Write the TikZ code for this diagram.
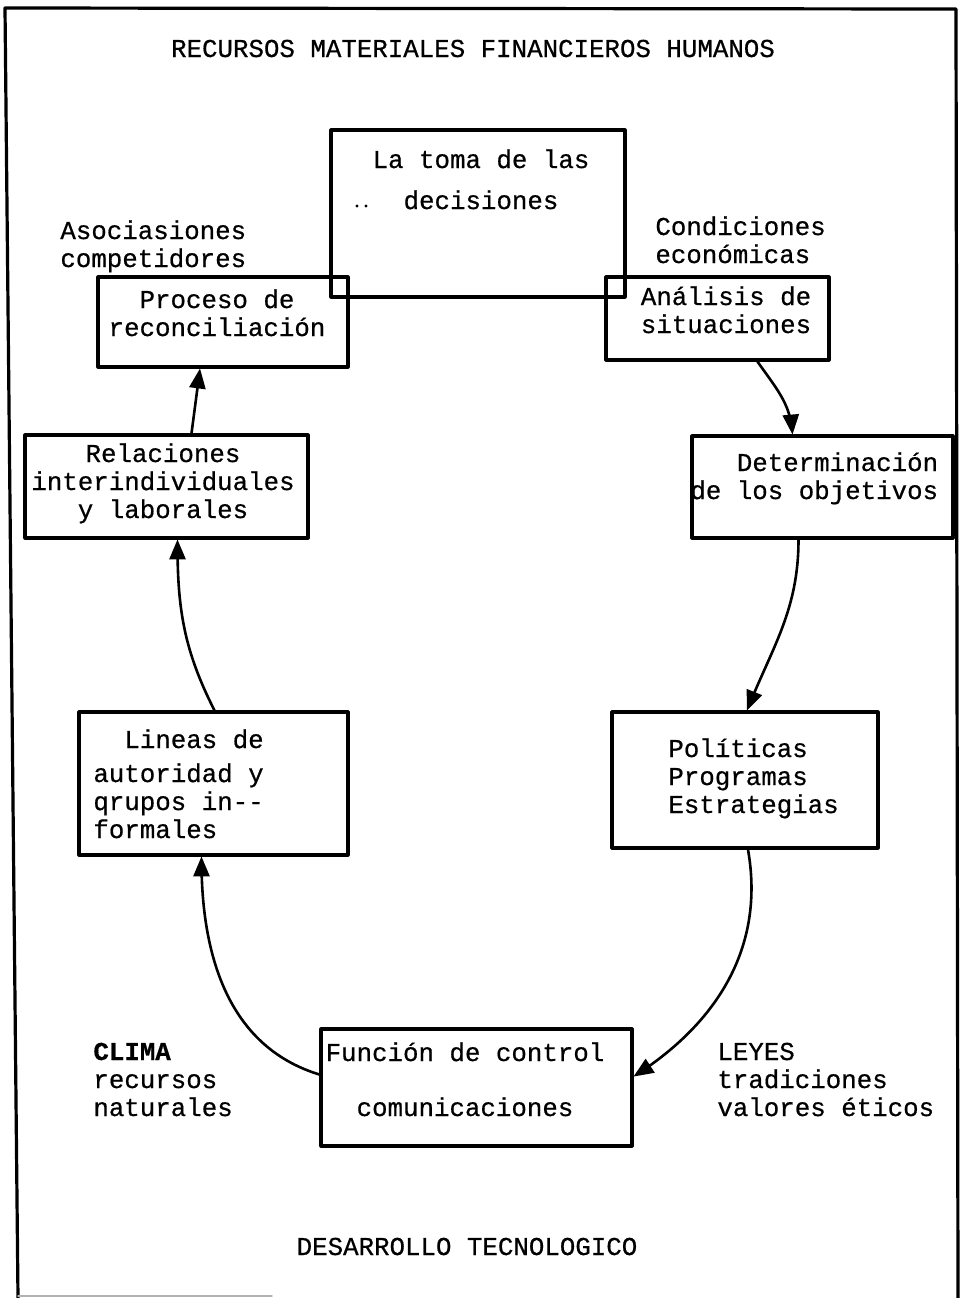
\documentclass[tikz,border=0pt]{standalone}
\usepackage{fontspec}
\setmainfont[FakeBold=0.6]{Liberation Mono}
\usetikzlibrary{arrows,calc}

\tikzset{
  caja/.style={draw,line width=1.6pt,inner sep=0pt},
  texto/.style={inner sep=0pt,font=\fontsize{12.9}{14}\selectfont},
  flecha/.style={line width=1.3pt,->},
}

\begin{document}
\begin{tikzpicture}[x=0.5pt,y=0.5pt,line cap=round,line join=round,>=triangle 45]
    \useasboundingbox (0,0) rectangle (960,-1298);
    % marco
    \draw[line width=1.6pt] (18,-1298) -- (5,-8) -- (956,-9) -- (958,-1298);
    \draw[gray!60,line width=0.7pt] (18,-1296) -- (272,-1296);

    \node[texto,anchor=base] (recursos) at (473,-57) {RECURSOS MATERIALES FINANCIEROS HUMANOS};
    \node[texto,anchor=base] (desarrollo) at (467,-1255) {DESARROLLO TECNOLOGICO};

    % cajas
    \node[caja,minimum width=147pt,minimum height=83.5pt] (dec) at (478,-213.5) {};
    \node[caja,minimum width=125pt,minimum height=45pt] (proc) at (223,-322) {};
    \node[caja,minimum width=111.5pt,minimum height=41.5pt] (anal) at (717.5,-318.5) {};
    \node[caja,minimum width=141.5pt,minimum height=51.5pt] (rel) at (166.5,-486.5) {};
    \node[caja,minimum width=130.5pt,minimum height=51pt] (det) at (822.5,-487) {};
    \node[caja,minimum width=133pt,minimum height=68pt] (pol) at (745,-780) {};
    \node[caja,minimum width=134.5pt,minimum height=71.5pt] (lin) at (213.5,-783.5) {};
    \node[caja,minimum width=155.5pt,minimum height=58.5pt] (func) at (476.5,-1087.5) {};

    % textos de las cajas (base = ultima linea)
    \node[texto,anchor=base,align=center] (dectxt) at (481,-209) {La toma de las\\[6.5pt]decisiones};
    \fill (357,-206) circle (0.8pt) (366,-206) circle (0.8pt);
    \node[texto,anchor=base,align=center] (proctxt) at (217,-336) {Proceso de\\reconciliación};
    \node[texto,anchor=base,align=center] (analtxt) at (726,-333) {Análisis de\\situaciones};
    \node[texto,anchor=base,align=center] (reltxt) at (163,-518) {Relaciones\\interindividuales\\y laborales};
    \node[texto,anchor=base west,align=left] (dettxt) at (690,-499) {\phantom{xxx}Determinación\\de los objetivos};
    \node[texto,anchor=base west,align=left] (poltxt) at (668,-813) {Políticas\\Programas\\Estrategias};
    \node[texto,anchor=base west,align=left] (lintxt) at (93,-838) {\phantom{xx}Lineas de\\[3pt]autoridad y\\qrupos in-{}-\\formales};
    \node[texto,anchor=base,align=center] (functxt) at (465,-1116) {Función de control\\[13.5pt]comunicaciones};

    % entorno
    \node[texto,anchor=base west,align=left] (asoc) at (60,-267) {Asociasiones\\competidores};
    \node[texto,anchor=base west,align=left] (cond) at (655,-263) {Condiciones\\económicas};
    \node[texto,anchor=base west,align=left] (clima) at (93,-1116) {\textbf{CLIMA}\\recursos\\naturales};
    \node[texto,anchor=base west,align=left] (leyes) at (717,-1116) {LEYES\\tradiciones\\valores éticos};

    % ciclo
    \draw[flecha] ($(anal.south)+(40,0)$) to[out=-55,in=95] ($(det.north)+(-30,0)$);
    \draw[flecha] ($(det.south)+(-24,0)$) to[out=-90,in=68] ($(pol.north)+(2,0)$);
    \draw[flecha] ($(pol.south)+(3,0)$) to[out=-80,in=33] ($(func.east)+(0,11)$);
    \draw[flecha] ($(func.west)+(0,13)$) to[out=163,in=-90] ($(lin.south)+(-12,0)$);
    \draw[flecha] ($(lin.north)+(1,0)$) to[out=117,in=-90] ($(rel.south)+(11,0)$);
    \draw[flecha] ($(rel.north)+(25,0)$) -- ($(proc.south)+(-23,0)$);
\end{tikzpicture}
\end{document}
